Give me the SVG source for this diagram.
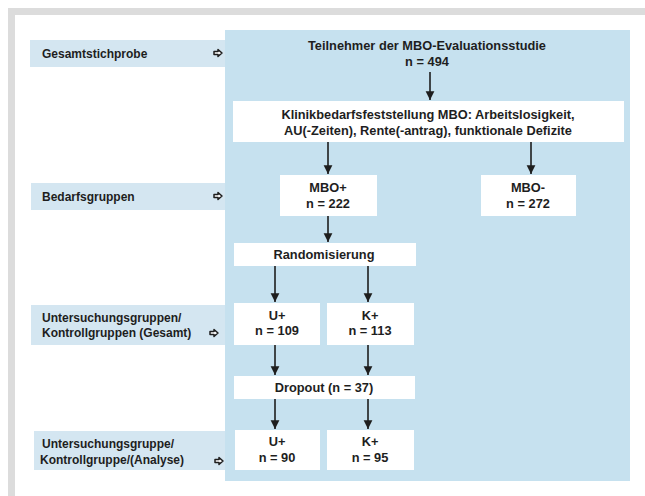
<svg xmlns="http://www.w3.org/2000/svg" width="645" height="496" viewBox="0 0 645 496">
<defs>
<style>
text{font-family:"Liberation Sans",Arial,sans-serif;font-weight:bold;font-size:12px;fill:#1e1e1e}
.c{text-anchor:middle;font-size:12.8px}
.box{fill:#ffffff}
.lab{fill:#d4e6f1}
.ln{stroke:#1e1e1e;stroke-width:1.6;fill:none}
.sym{fill:#ffffff;stroke:#1e1e1e;stroke-width:1.5;stroke-linejoin:round}
</style>
<marker id="ah" viewBox="0 0 10 10" refX="10" refY="5" markerWidth="5.5" markerHeight="6" orient="auto" markerUnits="strokeWidth">
<path d="M0,0 L10,5 L0,10 Z" fill="#1e1e1e"/>
</marker>
<path id="sy" d="M-4,-1.6 L0,-1.6 L0,-3.4 L4,0 L0,3.4 L0,1.6 L-4,1.6 Z"/>
</defs>
<rect x="0" y="0" width="645" height="496" fill="#ffffff"/>
<path d="M8,8 H645 V15 H15 V496 H8 Z" fill="#dcdcdc"/>
<rect x="225" y="30" width="405" height="451" fill="#c6e1ef"/>

<g id="label-gesamt">
<rect class="lab" x="30" y="40" width="195" height="27"/>
<text x="42" y="58">Gesamtstichprobe</text>
<use href="#sy" class="sym" x="218" y="53"/>
</g>
<g id="label-bedarf">
<rect class="lab" x="31" y="183" width="194" height="27"/>
<text x="42" y="201">Bedarfsgruppen</text>
<use href="#sy" class="sym" x="218" y="196"/>
</g>
<g id="label-gesamtgruppen">
<rect class="lab" x="31" y="305" width="194" height="40"/>
<text x="42" y="322">Untersuchungsgruppen/</text>
<text x="42" y="337">Kontrollgruppen (Gesamt)</text>
<use href="#sy" class="sym" x="214" y="333"/>
</g>
<g id="label-analyse">
<rect class="lab" x="34" y="431" width="191" height="39"/>
<text x="42" y="448">Untersuchungsgruppe/</text>
<text x="40" y="464">Kontrollgruppe/(Analyse)</text>
<use href="#sy" class="sym" x="219" y="461"/>
</g>

<g id="n-teilnehmer">
<text class="c" x="427" y="50">Teilnehmer der MBO-Evaluationsstudie</text>
<text class="c" x="427" y="66">n = 494</text>
</g>
<g id="n-klinik">
<rect class="box" x="233" y="101" width="391" height="41"/>
<text class="c" x="428" y="119">Klinikbedarfsfeststellung MBO: Arbeitslosigkeit,</text>
<text class="c" x="428" y="135">AU(-Zeiten), Rente(-antrag), funktionale Defizite</text>
</g>
<g id="n-mboplus">
<rect class="box" x="280" y="175" width="97" height="41"/>
<text class="c" x="328" y="192">MBO+</text>
<text class="c" x="328" y="208">n = 222</text>
</g>
<g id="n-mbominus">
<rect class="box" x="481" y="175" width="95" height="41"/>
<text class="c" x="528" y="192">MBO-</text>
<text class="c" x="528" y="208">n = 272</text>
</g>
<g id="n-random">
<rect class="box" x="234" y="243" width="182" height="23"/>
<text class="c" x="324" y="259">Randomisierung</text>
</g>
<g id="n-u1">
<rect class="box" x="234" y="303" width="86" height="42"/>
<text class="c" x="277" y="320">U+</text>
<text class="c" x="277" y="335">n = 109</text>
</g>
<g id="n-k1">
<rect class="box" x="327" y="303" width="87" height="42"/>
<text class="c" x="370" y="320">K+</text>
<text class="c" x="370" y="335">n = 113</text>
</g>
<g id="n-dropout">
<rect class="box" x="234" y="376" width="181" height="23"/>
<text class="c" x="324" y="392">Dropout (n = 37)</text>
</g>
<g id="n-u2">
<rect class="box" x="235" y="430" width="85" height="40"/>
<text class="c" x="277" y="446">U+</text>
<text class="c" x="277" y="462">n = 90</text>
</g>
<g id="n-k2">
<rect class="box" x="327" y="430" width="87" height="40"/>
<text class="c" x="370" y="446">K+</text>
<text class="c" x="370" y="462">n = 95</text>
</g>

<g id="connectors">
<line class="ln" x1="430" y1="72" x2="430" y2="100" marker-end="url(#ah)"/>
<line class="ln" x1="328" y1="142" x2="328" y2="174" marker-end="url(#ah)"/>
<line class="ln" x1="531" y1="142" x2="531" y2="174" marker-end="url(#ah)"/>
<line class="ln" x1="328" y1="216" x2="328" y2="242" marker-end="url(#ah)"/>
<line class="ln" x1="275" y1="266" x2="275" y2="302" marker-end="url(#ah)"/>
<line class="ln" x1="368" y1="266" x2="368" y2="302" marker-end="url(#ah)"/>
<line class="ln" x1="275" y1="345" x2="275" y2="375" marker-end="url(#ah)"/>
<line class="ln" x1="368" y1="345" x2="368" y2="375" marker-end="url(#ah)"/>
<line class="ln" x1="275" y1="399" x2="275" y2="429" marker-end="url(#ah)"/>
<line class="ln" x1="368" y1="399" x2="368" y2="429" marker-end="url(#ah)"/>
</g>
</svg>
